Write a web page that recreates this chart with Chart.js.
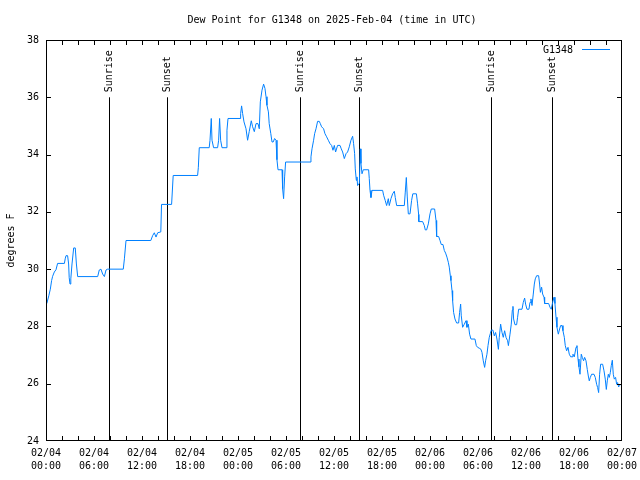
<!DOCTYPE html>
<html>
<head>
<meta charset="utf-8">
<script src="https://cdn.jsdelivr.net/npm/chart.js@4.4.1/dist/chart.umd.min.js"></script>
<style>
  html, body { margin: 0; padding: 0; background: #fff; }
  #wrap { width: 640px; height: 480px; }
</style>
</head>
<body>
<div id="wrap"><canvas id="dewChart" width="640" height="480"></canvas></div>
<script>
  // hours since 02/04 00:00 UTC
  const hours = [
    0.1, 0.35, 0.54, 0.7, 0.83, 1.04, 1.25, 1.45, 2.3, 2.4,
    2.5, 2.7, 2.83, 2.9, 3.0, 3.1, 3.25, 3.46, 3.66, 3.8,
    3.96, 6.46, 6.66, 6.87, 7.08, 7.3, 7.5, 7.7, 9.66, 9.8,
    10.0, 13.1, 13.33, 13.54, 13.75, 13.96, 14.35, 14.44, 15.7, 15.9,
    18.95, 19.04, 19.16, 20.4, 20.5, 20.66, 20.75, 20.95, 21.45, 21.58,
    21.7, 21.83, 22.0, 22.5, 22.62, 22.75, 24.25, 24.33, 24.45, 24.58,
    24.75, 25.0, 25.2, 25.4, 25.66, 25.83, 26.04, 26.25, 26.5, 26.66,
    26.79, 27.0, 27.2, 27.37, 27.5, 27.62, 27.8, 27.9, 28.1, 28.25,
    28.4, 28.58, 28.75, 28.87, 29.0, 29.5, 29.58, 29.7, 29.83, 29.95,
    33.0, 33.12, 33.25, 33.45, 33.58, 33.75, 33.95, 34.16, 34.29, 34.45,
    34.7, 34.87, 35.08, 35.29, 35.5, 35.7, 35.87, 36.04, 36.2, 36.45,
    36.75, 36.91, 37.08, 37.29, 37.5, 37.7, 37.91, 38.12, 38.33, 38.45,
    38.58, 38.66, 38.79, 38.87, 38.95, 39.17, 39.29, 39.37, 39.5, 39.66,
    40.33, 40.41, 40.5, 40.62, 40.75, 42.08, 42.2, 42.4, 42.58, 42.79,
    42.91, 43.12, 43.33, 43.54, 43.66, 43.83, 44.79, 44.91, 45.04, 45.16,
    45.29, 45.5, 45.7, 45.85, 46.3, 46.45, 46.58, 46.6, 47.08, 47.29,
    47.41, 47.58, 47.79, 48.0, 48.16, 48.58, 48.75, 48.83, 49.08, 49.25,
    49.41, 49.62, 49.79, 49.95, 50.12, 50.29, 50.41, 50.54, 50.62, 50.75,
    50.83, 50.95, 51.12, 51.33, 51.58, 51.7, 51.83, 51.91, 52.08, 52.29,
    52.5, 52.62, 52.79, 52.95, 53.12, 53.62, 53.79, 53.95, 54.16, 54.37,
    54.5, 54.66, 54.83, 54.95, 55.12, 55.25, 55.41, 55.55, 55.66, 55.87,
    56.04, 56.2, 56.37, 56.55, 56.66, 56.83, 57.0, 57.16, 57.33, 57.5,
    57.7, 57.8, 58.0, 58.16, 58.29, 58.37, 58.45, 58.62, 58.83, 58.95,
    59.08, 59.5, 59.66, 59.83, 59.95, 60.12, 60.37, 60.5, 60.62, 60.75,
    60.91, 61.04, 61.16, 61.33, 61.58, 61.7, 61.8, 61.95, 62.08, 62.25,
    62.33, 62.83, 63.0, 63.16, 63.33, 63.5, 63.62, 63.75, 63.87, 64.04,
    64.2, 64.33, 64.5, 64.62, 64.79, 64.91, 65.08, 65.25, 65.41, 65.58,
    65.75, 65.87, 66.04, 66.25, 66.37, 66.5, 66.62, 66.75, 66.91, 67.04,
    67.2, 67.33, 67.5, 67.66, 67.79, 67.91, 68.04, 68.2, 68.5, 68.66,
    68.83, 68.95, 69.08, 69.2, 69.33, 69.58, 69.75, 69.91, 70.04, 70.16,
    70.29, 70.41, 70.54, 70.66, 70.79, 70.91, 71.04, 71.2, 71.33, 71.45,
    71.58, 71.75
  ];

  const dewPoint = [
    28.8, 29.07, 29.3, 29.6, 29.75, 29.9, 29.98, 30.2, 30.2, 30.36,
    30.47, 30.47, 30.18, 29.7, 29.48, 29.66, 30.18, 30.74, 30.74, 30.18,
    29.74, 29.74, 29.97, 30.0, 29.83, 29.74, 29.97, 30.0, 30.0, 30.36,
    31.0, 31.0, 31.17, 31.27, 31.12, 31.27, 31.3, 32.26, 32.26, 33.27,
    33.27, 33.54, 34.24, 34.24, 34.5, 35.26, 34.5, 34.24, 34.24, 34.5,
    35.26, 34.5, 34.24, 34.24, 34.85, 35.26, 35.26, 35.43, 35.7, 35.43,
    35.14, 34.9, 34.5, 34.8, 35.18, 34.97, 34.8, 35.08, 35.08, 34.9,
    35.84, 36.25, 36.46, 36.31, 36.02, 35.72, 35.49, 35.08, 34.73, 34.44,
    34.44, 34.56, 34.5, 33.82, 33.47, 33.47, 32.81, 32.46, 33.22, 33.74,
    33.74, 33.92, 34.2, 34.5, 34.73, 34.9, 35.16, 35.16, 35.08, 34.97,
    34.9, 34.73, 34.62, 34.5, 34.38, 34.32, 34.15, 34.32, 34.09, 34.32,
    34.32, 34.2, 34.09, 33.86, 34.03, 34.09, 34.27, 34.5, 34.64, 34.38,
    34.03, 33.5, 33.1, 33.22, 32.92, 33.0, 34.2, 33.69, 33.33, 33.47,
    33.47, 33.16, 32.75, 32.5, 32.75, 32.75, 32.58, 32.4, 32.22, 32.46,
    32.22, 32.46, 32.63, 32.72, 32.5, 32.22, 32.22, 32.69, 33.2, 32.52,
    31.93, 31.93, 32.4, 32.63, 32.63, 32.28, 31.91, 31.66, 31.66, 31.52,
    31.37, 31.37, 31.58, 31.93, 32.1, 32.1, 31.7, 31.14, 31.14, 31.0,
    30.86, 30.86, 30.65, 30.56, 30.42, 30.24, 30.07, 29.77, 29.6, 29.25,
    28.9, 28.49, 28.26, 28.12, 28.12, 28.49, 28.78, 28.37, 27.97, 28.08,
    28.2, 27.97, 28.08, 27.73, 27.56, 27.56, 27.33, 27.27, 27.24, 27.2,
    27.09, 26.8, 26.57, 26.8, 27.03, 27.33, 27.62, 27.76, 27.87, 27.87,
    27.67, 27.79, 27.56, 27.2, 27.62, 28.08, 27.79, 27.62, 27.85, 27.62,
    27.5, 27.33, 27.73, 28.08, 28.57, 28.7, 28.26, 28.06, 28.06, 28.32,
    28.6, 28.6, 28.84, 28.99, 28.78, 28.6, 28.6, 28.84, 28.96, 28.73,
    29.13, 29.48, 29.66, 29.77, 29.77, 29.48, 29.19, 29.37, 29.13, 29.02,
    28.8, 28.8, 28.67, 28.6, 28.84, 29.02, 28.8, 28.32, 27.97, 27.73,
    27.91, 28.03, 28.03, 27.85, 27.62, 27.33, 27.15, 27.27, 27.03, 26.94,
    26.94, 27.03, 26.94, 27.27, 27.33, 26.86, 26.59, 26.33, 27.03, 26.92,
    26.8, 26.92, 26.8, 26.5, 26.27, 26.1, 26.22, 26.33, 26.33, 26.22,
    25.98, 25.87, 25.69, 26.33, 26.68, 26.68, 26.45, 26.16, 25.8, 26.1,
    26.33, 26.22, 26.39, 26.63, 26.82, 26.33, 26.16, 26.22, 25.98, 26.04,
    25.89, 25.95
  ];

  const sunriseHours = [7.83, 31.75, 55.58];
  const sunsetHours = [15.08, 39.08, 63.2];

  const xTickHours = [0, 6, 12, 18, 24, 30, 36, 42, 48, 54, 60, 66, 72];
  const xTickLabels = [
    ["02/04", "00:00"], ["02/04", "06:00"], ["02/04", "12:00"], ["02/04", "18:00"],
    ["02/05", "00:00"], ["02/05", "06:00"], ["02/05", "12:00"], ["02/05", "18:00"],
    ["02/06", "00:00"], ["02/06", "06:00"], ["02/06", "12:00"], ["02/06", "18:00"],
    ["02/07", "00:00"]
  ];

  const chartTitle = "Dew Point for G1348 on 2025-Feb-04 (time in UTC)";
  const seriesName = "G1348";
  const lineColor = "#0080ff";
  const monoFont = "'DejaVu Sans Mono', 'Liberation Mono', monospace";

  Chart.defaults.font.family = monoFont;
  Chart.defaults.font.size = 10;
  Chart.defaults.color = "#000";

  // gnuplot-like decorations: sun lines, frame, inward ticks, key, title
  const gnuplotLook = {
    id: "gnuplotLook",
    beforeDatasetsDraw(chart) {
      const { ctx, chartArea: a, scales: { x, y } } = chart;
      ctx.save();
      ctx.strokeStyle = "#000";
      ctx.fillStyle = "#000";
      ctx.lineWidth = 1;
      ctx.font = "10px " + monoFont;
      const top = y.getPixelForValue(36);
      const drawSun = (h, text) => {
        const px = Math.round(x.getPixelForValue(h)) + 0.5;
        ctx.beginPath();
        ctx.moveTo(px, top);
        ctx.lineTo(px, a.bottom);
        ctx.stroke();
        ctx.save();
        ctx.translate(px, top - 5);
        ctx.rotate(-Math.PI / 2);
        ctx.textAlign = "left";
        ctx.textBaseline = "middle";
        ctx.fillText(text, 0, 0);
        ctx.restore();
      };
      sunriseHours.forEach(h => drawSun(h, "Sunrise"));
      sunsetHours.forEach(h => drawSun(h, "Sunset"));
      ctx.restore();
    },
    afterDatasetsDraw(chart) {
      const { ctx, chartArea: a, scales: { x, y } } = chart;
      ctx.save();
      ctx.strokeStyle = "#000";
      ctx.fillStyle = "#000";
      ctx.lineWidth = 1;
      ctx.strokeRect(a.left + 0.5, a.top + 0.5, a.right - a.left - 1, a.bottom - a.top - 1);

      ctx.beginPath();
      x.ticks.forEach(t => {
        if (t.value <= x.min || t.value >= x.max) return;
        const px = Math.round(x.getPixelForValue(t.value)) + 0.5;
        ctx.moveTo(px, a.bottom);
        ctx.lineTo(px, a.bottom - 5);
        ctx.moveTo(px, a.top);
        ctx.lineTo(px, a.top + 5);
      });
      y.ticks.forEach(t => {
        if (t.value <= y.min || t.value >= y.max) return;
        const py = Math.round(y.getPixelForValue(t.value)) + 0.5;
        ctx.moveTo(a.left, py);
        ctx.lineTo(a.left + 5, py);
        ctx.moveTo(a.right, py);
        ctx.lineTo(a.right - 5, py);
      });
      ctx.stroke();

      ctx.font = "10px " + monoFont;
      ctx.textBaseline = "middle";
      ctx.textAlign = "right";
      ctx.fillText(seriesName, a.right - 49, a.top + 10);
      ctx.strokeStyle = lineColor;
      ctx.beginPath();
      ctx.moveTo(a.right - 40, a.top + 9.5);
      ctx.lineTo(a.right - 12, a.top + 9.5);
      ctx.stroke();

      ctx.textAlign = "center";
      ctx.fillText(chartTitle, (a.left + a.right) / 2 - 2, 20);
      ctx.restore();
    }
  };

  document.addEventListener("DOMContentLoaded", () => {
    const ctx = document.getElementById("dewChart");
    const points = hours.map((h, i) => ({ x: h, y: dewPoint[i] }));

    new Chart(ctx, {
      type: "line",
      data: {
        datasets: [
          {
            label: seriesName,
            data: points,
            borderColor: lineColor,
            borderWidth: 1,
            pointRadius: 0,
            tension: 0,
            fill: false
          }
        ]
      },
      options: {
        responsive: false,
        animation: false,
        devicePixelRatio: 1,
        layout: {
          padding: { top: 40, right: 18, left: 0, bottom: 0 }
        },
        plugins: {
          legend: { display: false },
          title: { display: false },
          tooltip: { enabled: false }
        },
        scales: {
          x: {
            type: "linear",
            min: 0,
            max: 72,
            afterFit: s => {
              s.height = 39;
              s.paddingLeft = 0;
              s.paddingRight = 0;
            },
            grid: { drawOnChartArea: false, drawTicks: false },
            border: { display: false },
            ticks: {
              stepSize: 2,
              autoSkip: false,
              maxRotation: 0,
              minRotation: 0,
              padding: 6,
              font: { size: 10, lineHeight: "13px" },
              callback: value => {
                const i = xTickHours.indexOf(value);
                return i >= 0 ? xTickLabels[i] : "";
              }
            }
          },
          y: {
            min: 24,
            max: 38,
            afterFit: s => {
              s.width = 46;
              s.paddingTop = 0;
              s.paddingBottom = 0;
            },
            grid: { drawOnChartArea: false, drawTicks: false },
            border: { display: false },
            ticks: { stepSize: 2, padding: 7 },
            title: {
              display: true,
              text: "degrees F",
              padding: { top: 5, bottom: 0 },
              font: { size: 10 }
            }
          }
        }
      },
      plugins: [gnuplotLook]
    });
  });
</script>
</body>
</html>
